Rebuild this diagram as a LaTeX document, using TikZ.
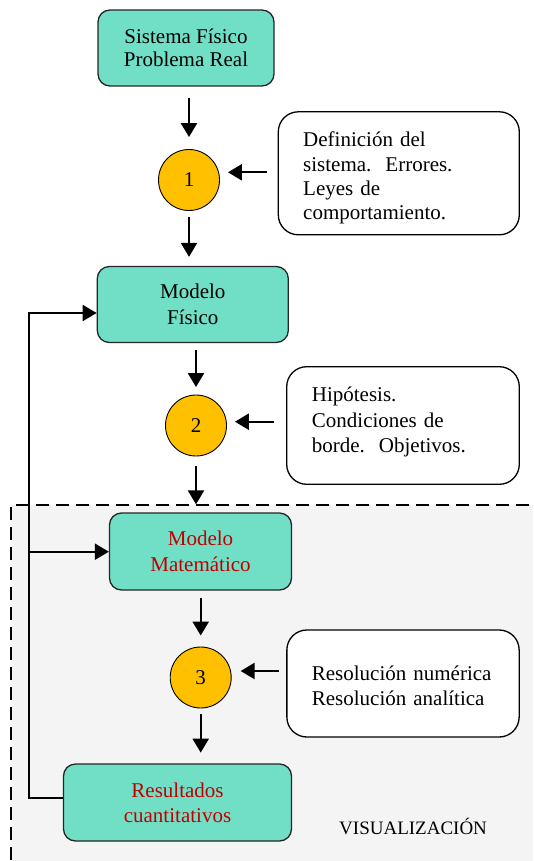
\documentclass[tikz,border=0pt]{standalone}
\usepackage{fontspec}
\setmainfont{Liberation Serif}
\usetikzlibrary{arrows.meta,calc}
\definecolor{turq}{HTML}{71DFC6}
\definecolor{gold}{HTML}{FFC000}
\definecolor{darkred}{HTML}{C00000}
\definecolor{panel}{HTML}{F4F4F4}
\begin{document}
\begin{tikzpicture}[x=1pt,y=-1pt,
  every node/.style={font=\fontsize{21}{25}\selectfont},
  mainbox/.style={draw=black!85, line width=1.3pt, fill=turq, rounded corners=12pt, align=center, inner sep=0pt},
  sidebox/.style={draw=black, line width=1.3pt, fill=white, rounded corners=20pt, inner sep=0pt},
  numc/.style={circle, draw=black, line width=0.9pt, fill=gold, minimum size=61pt, inner sep=0pt},
  arr/.style={line width=2.4pt, -{Triangle[length=14pt,width=16pt]}},
  sidetext/.style={anchor=base west, align=left, inner sep=0pt, text width=215pt},
  dashborder/.style={line width=2.6pt, dash pattern=on 13pt off 7pt}]
\useasboundingbox (0,0) rectangle (533,861);
\clip (0,0) rectangle (533,861);
% visualization panel
\fill[panel] (11,505) rectangle (560,880);
\draw[dashborder] (11,880) -- (11,505) -- (560,505);
% main boxes and circles
\node[mainbox, minimum width=176pt, minimum height=76pt, font=\fontsize{21}{23.5}\selectfont] (b1) at (186,48) {Sistema Físico\\Problema Real};
\node[numc] (c1) at (189,180) {1};
\node[sidebox, minimum width=241pt, minimum height=123pt] (sA) at (398.8,173.3) {};
\begin{scope}
  \clip (279,112) rectangle (519,223.5);
  \node[sidetext, font=\fontsize{21}{24.3}\selectfont] (tA) at (303,147) {Definición del\\sistema.\ \ Errores.\\Leyes de\\comportamiento.};
\end{scope}
\node[mainbox, minimum width=191pt, minimum height=76pt, font=\fontsize{21}{26}\selectfont] (b2) at (192.8,304.5) {Modelo\\Físico};
\node[numc] (c2) at (196,425.5) {2};
\node[sidebox, minimum width=232.6pt, minimum height=117.6pt] (sB) at (403,425.5) {};
\node[sidetext, font=\fontsize{21}{25.5}\selectfont] (tB) at (311.7,401.7) {Hipótesis.\\Condiciones de\\borde.\ \ Objetivos.};
\node[mainbox, text=darkred, minimum width=182pt, minimum height=77pt, font=\fontsize{21}{25.7}\selectfont] (b3) at (200.5,551.5) {Modelo\\Matemático};
\node[numc] (c3) at (200.7,677.5) {3};
\node[sidebox, minimum width=232.3pt, minimum height=107pt] (sC) at (403,683.5) {};
\node[sidetext, font=\fontsize{21}{25}\selectfont] (tC) at (311.7,680) {Resolución numérica\\Resolución analítica};
\node[mainbox, text=darkred, minimum width=228pt, minimum height=77pt, font=\fontsize{21}{25}\selectfont] (b4) at (177.5,802.5) {Resultados\\cuantitativos};
\node[anchor=base west, inner sep=0pt, font=\fontsize{19}{22}\selectfont] (vis) at (339,834) {VISUALIZACIÓN};
% vertical flow arrows
\draw[arr, shorten <=11pt, shorten >=12pt] (b1.south -| c1) -- (c1.north);
\draw[arr, shorten <=6pt, shorten >=9pt] (c1.south) -- (c1.south |- b2.north);
\draw[arr, shorten <=7pt, shorten >=7.5pt] (b2.south -| c2) -- (c2.north);
\draw[arr, shorten <=9.5pt, shorten >=8pt] (c2.south) -- (c2.south |- b3.north);
\draw[arr, shorten <=7pt, shorten >=11pt] (b3.south -| c3) -- (c3.north);
\draw[arr, shorten <=5.5pt, shorten >=10.7pt] (c3.south) -- (c3.south |- b4.north);
% side arrows
\coordinate (yA) at (0,172.3);
\coordinate (yB) at (0,421.7);
\coordinate (yC) at (0,671);
\draw[arr, shorten <=11pt, shorten >=8pt] (sA.west |- yA) -- (c1.east |- yA);
\draw[arr, shorten <=12pt, shorten >=8pt] (sB.west |- yB) -- (c2.east |- yB);
\draw[arr, shorten <=7pt, shorten >=9pt] (sC.west |- yC) -- (c3.east |- yC);
% feedback loop
\coordinate (ft) at (29,313);
\coordinate (fm) at (29,551.7);
\coordinate (fb) at (29,798);
\draw[line width=2pt, -{Triangle[length=14pt,width=16pt]}] (fb -| b4.west) -- (fb) -- (ft) -- (ft -| b2.west);
\draw[arr] (fm) -- (fm -| b3.west);
\end{tikzpicture}
\end{document}
